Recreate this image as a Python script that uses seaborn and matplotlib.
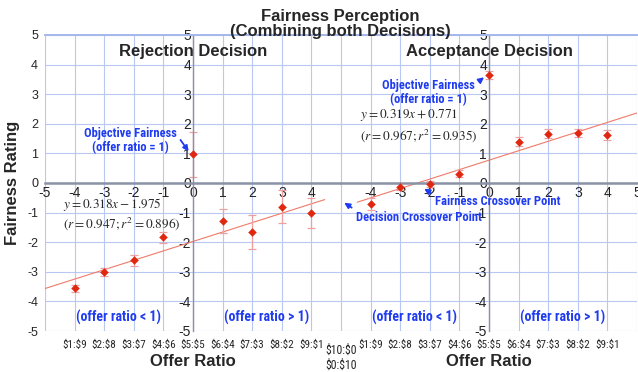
import numpy as np
import matplotlib
matplotlib.use('Agg')
import matplotlib.pyplot as plt
from matplotlib import font_manager
import seaborn as sns

# offer ratio positions (-4..4) and their $ splits
offer_pos = [-4, -3, -2, -1, 0, 1, 2, 3, 4]
offer_labels = [r'\$1:\$9', r'\$2:\$8', r'\$3:\$7', r'\$4:\$6', r'\$5:\$5',
                r'\$6:\$4', r'\$7:\$3', r'\$8:\$2', r'\$9:\$1']

reject_mean = [-3.55, -3.0, -2.61, -1.84, 0.97, -1.29, -1.66, -0.80, -1.02]
reject_err = [0.12, 0.13, 0.18, 0.20, 0.76, 0.41, 0.57, 0.56, 0.50]
accept_mean = [-0.71, -0.12, -0.03, 0.32, 3.64, 1.39, 1.67, 1.69, 1.61]
accept_err = [0.20, 0.12, 0.10, 0.12, 0.13, 0.15, 0.15, 0.13, 0.17]

reject_fit = (0.318, -1.975)
accept_fit = (0.319, 0.771)
reject_fit_range = (-5.0, 4.45)
accept_fit_range = (-4.45, 5.0)

sns.set_style('white')
plt.rcParams['font.family'] = ['Liberation Sans', 'DejaVu Sans']
plt.rcParams['mathtext.fontset'] = 'stix'

# pick a condensed family that also has a bold face
bold_names = {f.name for f in font_manager.fontManager.ttflist
              if isinstance(f.weight, int) and f.weight >= 600
              or f.weight in ('bold', 'semibold', 'demibold', 'heavy')}
all_names = {f.name for f in font_manager.fontManager.ttflist}
cands = ['Liberation Sans Narrow', 'Arial Narrow', 'Roboto Condensed',
         'Archivo Narrow', 'PT Sans Narrow', 'Open Sans Condensed',
         'Fira Sans Condensed', 'IBM Plex Sans Condensed', 'Barlow Semi Condensed']
NARROW = next((c for c in cands if c in bold_names),
              next((c for c in cands if c in all_names), 'Liberation Sans'))

BLUE = '#1f3cf0'
GRID = '#b8c8f2'
AXIS = '#8a93a6'

fig = plt.figure(figsize=(6.38, 3.72), dpi=100)
W, H = 638, 372
ax1 = fig.add_axes([45 / W, 41 / H, 296 / W, 296 / H])
ax2 = fig.add_axes([341 / W, 41 / H, 296 / W, 296 / H])


def draw_panel(ax, means, errs, fit, fit_range, title, xlabels):
    ax.set_xlim(-5, 5)
    ax.set_ylim(-5, 5)
    ticks = list(range(-5, 6))
    ax.set_xticks(ticks, xlabels, fontsize=9)
    ax.set_yticks(ticks, [str(t) for t in ticks], fontsize=9)
    ax.grid(True, color=GRID, lw=0.8)
    ax.set_axisbelow(True)
    for s in ['right', 'bottom', 'left', 'top']:
        ax.spines[s].set_visible(True)
    ax.spines['left'].set_position(('data', 0))
    ax.spines['left'].set_color(AXIS)
    ax.spines['left'].set_linewidth(1.0)
    ax.spines['bottom'].set_position(('data', 0))
    ax.spines['bottom'].set_color(AXIS)
    ax.spines['bottom'].set_linewidth(1.8)
    ax.spines['right'].set_visible(False)
    ax.spines['top'].set_color('#a4b8ec')
    ax.spines['top'].set_linewidth(1.4)
    ax.tick_params(axis='both', length=0, colors='#222222')
    ax.tick_params(axis='y', pad=1.5)
    ax.tick_params(axis='x', pad=2)

    fx = np.array(fit_range)
    sns.lineplot(x=fx, y=fit[0] * fx + fit[1], ax=ax, color='#f07a68', lw=0.8)
    ax.errorbar(offer_pos, means, yerr=errs, fmt='none', ecolor='#eea0a0',
                elinewidth=0.9, capsize=3, capthick=0.9)
    sns.scatterplot(x=offer_pos, y=means, ax=ax, marker='D', s=16,
                    color='#e02810', edgecolor='#e02810', zorder=5)

    ax.text(0, 4.43, title, ha='center', va='center', fontsize=12,
            fontweight='bold')
    ax.text(-2.5, -4.53, '(offer ratio < 1)', ha='center', va='center',
            fontsize=10, color=BLUE, family=NARROW, fontweight='bold')
    ax.text(2.5, -4.53, '(offer ratio > 1)', ha='center', va='center',
            fontsize=10, color=BLUE, family=NARROW, fontweight='bold')

    sec = ax.secondary_xaxis('bottom')
    sec.set_xticks(offer_pos, offer_labels, fontsize=8, family=NARROW)
    sec.tick_params(length=0, pad=6)
    sec.spines['bottom'].set_visible(False)
    sec.set_xlabel('Offer Ratio', fontsize=12, fontweight='bold', labelpad=3)


left_x = [str(t) for t in range(-5, 5)] + ['']
right_x = [''] + [str(t) for t in range(-4, 6)]
draw_panel(ax1, reject_mean, reject_err, reject_fit, reject_fit_range,
           'Rejection Decision', left_x)
draw_panel(ax2, accept_mean, accept_err, accept_fit, accept_fit_range,
           'Acceptance Decision', right_x)

# outer y labels of the left panel
sy = ax1.secondary_yaxis('left')
sy.set_yticks(list(range(-5, 6)), [str(t) for t in range(-5, 6)], fontsize=9)
sy.tick_params(length=0, pad=5)
sy.spines['left'].set_visible(False)

# equations
eq = dict(fontsize=9.5, va='center')
ax1.text(-4.39, -0.72, r'$y = 0.318x - 1.975$', **eq)
ax1.text(-4.39, -1.38, r'$(r = 0.947;r^2 = 0.896)$', **eq)
ax2.text(-4.36, 2.30, r'$y = 0.319x + 0.771$', **eq)
ax2.text(-4.36, 1.59, r'$(r = 0.967;r^2 = 0.935)$', **eq)

arrow = dict(arrowstyle='-|>', color=BLUE, lw=1.3, shrinkA=1, shrinkB=1,
             mutation_scale=8)
note = dict(fontsize=9, color=BLUE, family=NARROW, fontweight='bold')
ax1.annotate('Objective Fairness\n(offer ratio = 1)', xy=(-0.12, 1.03),
             xytext=(-2.13, 1.42), ha='center', va='center', linespacing=1.1,
             arrowprops=dict(arrow, relpos=(1.0, 0.75)), **note)
ax2.annotate('Objective Fairness\n(offer ratio = 1)', xy=(-0.13, 3.6),
             xytext=(-2.06, 3.04), ha='center', va='center', linespacing=1.1,
             arrowprops=dict(arrow, relpos=(1.0, 0.8)), **note)
ax2.annotate('Fairness Crossover Point', xy=(-2.23, -0.17),
             xytext=(-1.82, -0.64), ha='left', va='center',
             arrowprops=dict(arrow, relpos=(0.0, 1.0)), **note)
ax2.annotate('Decision Crossover Point', xy=(-4.93, -0.64),
             xytext=(-4.49, -1.15), ha='left', va='center',
             arrowprops=dict(arrow, relpos=(0.0, 1.0)), **note)

fig.text(341 / W, 1 - 358 / H, r'\$10:\$0' + '\n' + r'\$0:\$10', ha='center',
         va='center', fontsize=8.5, linespacing=1.15, family=NARROW)
fig.text(13 / W, 1 - 183 / H, 'Fairness Rating', rotation=90, ha='center',
         va='center', fontsize=12, fontweight='bold')
fig.text(340 / W, 1 - 24 / H, 'Fairness Perception\n(Combining both Decisions)',
         ha='center', va='center', fontsize=12, fontweight='bold',
         linespacing=1.05)

fig.savefig('out.png', dpi=100)
